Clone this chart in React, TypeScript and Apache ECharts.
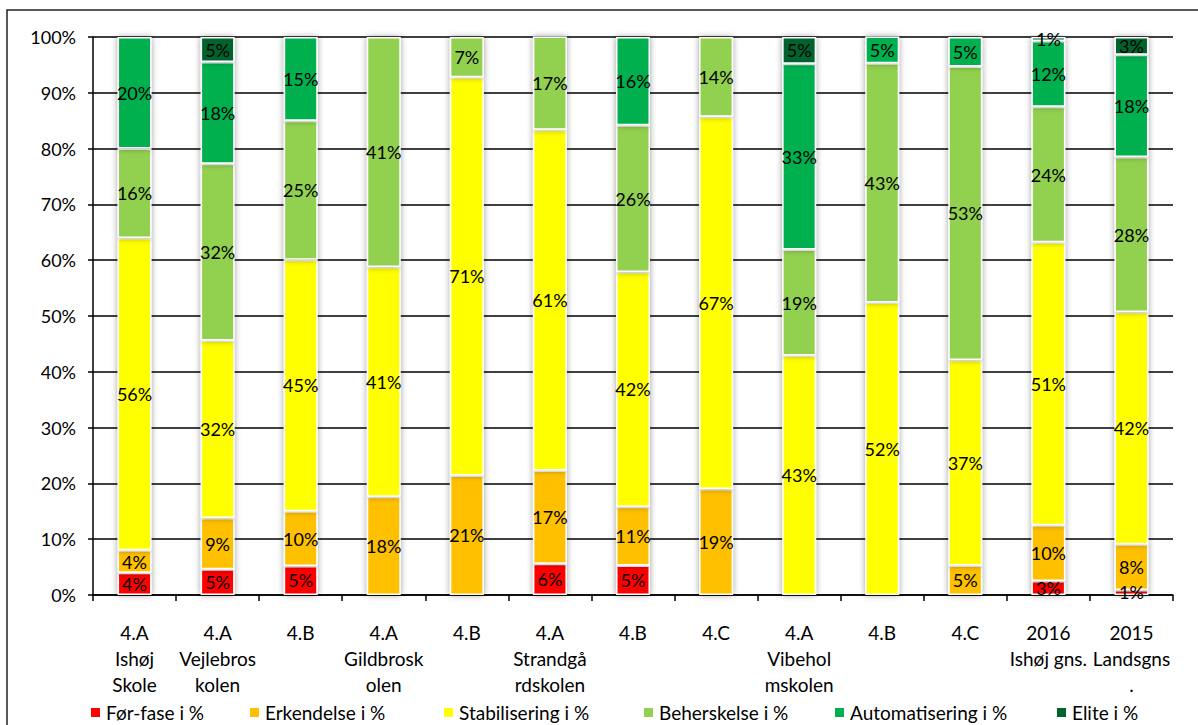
import React, { useEffect, useRef } from "react";
import * as echarts from "echarts";

const categories = [
  "4.A\nIshøj\nSkole",
  "4.A\nVejlebros\nkolen",
  "4.B",
  "4.A\nGildbrosk\nolen",
  "4.B",
  "4.A\nStrandgå\nrdskolen",
  "4.B",
  "4.C",
  "4.A\nVibehol\nmskolen",
  "4.B",
  "4.C",
  "2016\nIshøj gns.",
  "2015\nLandsgns\n.",
];

const forFase = [4, 4.6, 5.2, 0, 0, 5.6, 5.3, 0, 0, 0, 0, 2.5, 0.9];
const erkendelse = [4, 9.2, 9.8, 17.6, 21.4, 16.7, 10.5, 19.0, 0, 0, 5.3, 10.0, 8.2];
const stabilisering = [56, 31.8, 45.1, 41.2, 71.4, 61.1, 42.1, 66.7, 42.9, 52.4, 36.8, 50.7, 41.6];
const beherskelse = [16, 31.7, 24.9, 41.2, 7.2, 16.7, 26.3, 14.3, 19.0, 42.9, 52.6, 24.3, 27.8];
const automatisering = [20, 18.2, 15.0, 0, 0, 0, 15.8, 0, 33.3, 4.8, 5.3, 11.8, 18.3];
const elite = [0, 4.5, 0, 0, 0, 0, 0, 0, 4.8, 0, 0, 0.7, 3.2];

const seriesNames = [
  "Før-fase i %",
  "Erkendelse i %",
  "Stabilisering i %",
  "Beherskelse i %",
  "Automatisering i %",
  "Elite i %",
];
const seriesData = [forFase, erkendelse, stabilisering, beherskelse, automatisering, elite];
const seriesColors = ["#FF0000", "#FFC000", "#FFFF00", "#92D050", "#00B050", "#00642F"];
const legendLefts = [89, 248, 442, 642, 833, 1055];

const yTicks = [0, 10, 20, 30, 40, 50, 60, 70, 80, 90, 100];

const FONT = "Lato";

export default function App() {
  const ref = useRef<HTMLDivElement>(null);

  useEffect(() => {
    if (!ref.current) return;
    const chart = echarts.init(ref.current, undefined, { renderer: "svg" });

    const series = seriesNames.map((name, i) => ({
      name,
      type: "bar",
      stack: "total",
      barWidth: 34,
      data: seriesData[i],
      itemStyle: {
        color: seriesColors[i],
        borderColor: "#ffffff",
        borderWidth: 1.5,
        shadowColor: "rgba(0,0,0,0.4)",
        shadowBlur: 6,
      },
      label: {
        show: true,
        position: "inside",
        color: "#000",
        fontFamily: FONT,
        fontSize: 18,
        formatter: (p: any) => (p.value > 0 ? Math.round(p.value) + "%" : ""),
      },
    }));

    const legends = seriesNames.map((name, i) => ({
      data: [name],
      left: legendLefts[i],
      top: 703,
      icon: "rect",
      itemWidth: 11,
      itemHeight: 11,
      itemGap: 5,
      padding: 0,
      selectedMode: false,
      textStyle: { color: "#000", fontFamily: FONT, fontSize: 19 },
    }));

    chart.setOption({
      animation: false,
      backgroundColor: "#ffffff",
      grid: { left: 93, right: 25, top: 37, bottom: 130, containLabel: false },
      legend: legends,
      xAxis: {
        type: "category",
        data: categories,
        axisLine: { show: true, lineStyle: { color: "#000", width: 1.5 } },
        axisTick: { show: true, length: 6, lineStyle: { color: "#000", width: 1.5 } },
        axisLabel: {
          color: "#000",
          fontFamily: FONT,
          fontSize: 19,
          lineHeight: 26,
          margin: 24,
          interval: 0,
        },
      },
      yAxis: {
        type: "value",
        min: yTicks[0],
        max: yTicks[yTicks.length - 1],
        interval: 10,
        axisLine: { show: true, lineStyle: { color: "#000", width: 1.5 } },
        axisTick: { show: true, length: 5, lineStyle: { color: "#000", width: 1.5 } },
        splitLine: { show: true, lineStyle: { color: "#000", width: 1.5 } },
        axisLabel: {
          color: "#000",
          fontFamily: FONT,
          fontSize: 18,
          margin: 17,
          formatter: (v: number) => v + "%",
        },
      },
      graphic: [
        {
          type: "rect",
          shape: { x: 7, y: 10, width: 1220, height: 800 },
          style: { fill: "none", stroke: "#222", lineWidth: 1.5 },
          silent: true,
          z: -10,
        },
      ],
      series,
    });

    return () => chart.dispose();
  }, []);

  return (
    <div
      ref={ref}
      style={{ position: "fixed", left: 0, top: 0, width: 1198, height: 725, background: "#fff" }}
    />
  );
}
